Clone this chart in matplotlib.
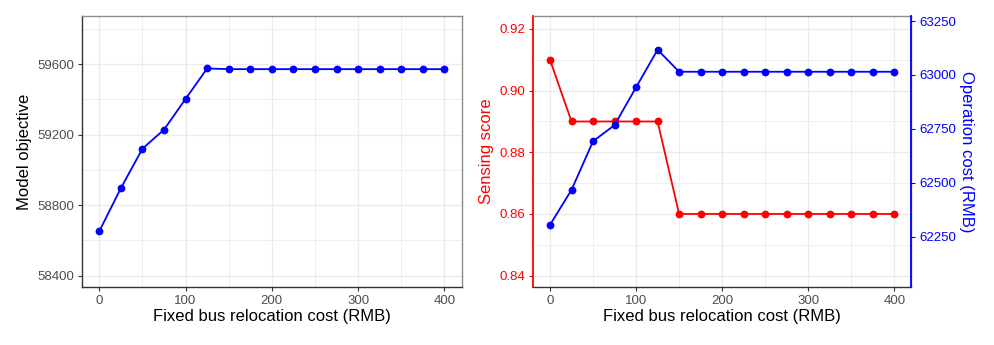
import numpy as np
import matplotlib
matplotlib.use("Agg")
from matplotlib import pyplot as plt
from matplotlib.ticker import MultipleLocator, FormatStrFormatter

plt.rcParams["font.family"] = ["Liberation Sans", "DejaVu Sans"]

# data
relocation_cost = [0, 25, 50, 75, 100, 125, 150, 175, 200, 225, 250, 275, 300, 325, 350, 375, 400]
model_objective = [58652, 58896, 59120, 59228, 59402, 59575, 59571, 59571, 59571, 59571,
                   59571, 59571, 59571, 59571, 59571, 59571, 59571]
sensing_score = [0.91, 0.89, 0.89, 0.89, 0.89, 0.89, 0.86, 0.86, 0.86, 0.86,
                 0.86, 0.86, 0.86, 0.86, 0.86, 0.86, 0.86]
operation_cost = [62306, 62468, 62693, 62768, 62943, 63117, 63015, 63015, 63015, 63015,
                  63015, 63015, 63015, 63015, 63015, 63015, 63015]

GRID = "#EBEBEB"
TICK_TXT = "#4D4D4D"
DARK = "#333333"
BLUE = "#0000FF"
RED = "#FF0000"


def style_axes(ax):
    ax.set_facecolor("white")
    ax.grid(which="major", color=GRID, linewidth=1.0, zorder=0)
    ax.grid(which="minor", color=GRID, linewidth=0.6, zorder=0)
    ax.set_axisbelow(True)
    ax.spines["top"].set_color("#8C8C8C")
    ax.spines["right"].set_color("#8C8C8C")
    ax.spines["left"].set_color(DARK)
    ax.spines["bottom"].set_color(DARK)
    for s in ax.spines.values():
        s.set_linewidth(1.0)
    ax.tick_params(which="major", length=3, width=0.8, color=DARK,
                   labelsize=9.5, labelcolor=TICK_TXT, pad=2.5)
    ax.tick_params(which="minor", length=0)
    ax.xaxis.set_major_locator(MultipleLocator(100))
    ax.xaxis.set_minor_locator(MultipleLocator(50))
    ax.set_xlim(-20, 420)
    ax.set_xlabel("Fixed bus relocation cost (RMB)", fontsize=12, labelpad=2)


fig = plt.figure(figsize=(9.94, 3.45), dpi=100)

# left panel
ax1 = fig.add_axes([0.0825, 0.168, 0.382, 0.7855])
style_axes(ax1)
ax1.plot(relocation_cost, model_objective, color=BLUE, linewidth=1.3,
         marker="o", markersize=4.6, zorder=3)
ax1.set_ylim(58336, 59872)
ax1.yaxis.set_major_locator(MultipleLocator(400))
ax1.yaxis.set_minor_locator(MultipleLocator(200))
ax1.set_ylabel("Model objective", fontsize=12, labelpad=4)

# right panel
ax2 = fig.add_axes([0.536, 0.168, 0.381, 0.7855])
style_axes(ax2)
ax2.plot(relocation_cost, sensing_score, color=RED, linewidth=1.3,
         marker="o", markersize=4.6, zorder=3)
ax2.set_ylim(0.8363, 0.9242)
ax2.yaxis.set_major_locator(MultipleLocator(0.02))
ax2.yaxis.set_minor_locator(MultipleLocator(0.01))
ax2.yaxis.set_major_formatter(FormatStrFormatter("%.2f"))
ax2.set_ylabel("Sensing score", fontsize=12, color=RED, labelpad=4)
ax2.spines["left"].set_color(RED)
ax2.spines["left"].set_linewidth(1.3)
ax2.tick_params(axis="y", which="major", color=RED, labelcolor=RED)

ax3 = ax2.twinx()
ax3.plot(relocation_cost, operation_cost, color=BLUE, linewidth=1.3,
         marker="o", markersize=4.6, zorder=3)
ax3.set_ylim(62018, 63273)
ax3.yaxis.set_major_locator(MultipleLocator(250))
ax3.spines["right"].set_color(BLUE)
ax3.spines["right"].set_linewidth(1.3)
ax3.spines["left"].set_visible(False)
ax3.spines["top"].set_visible(False)
ax3.spines["bottom"].set_visible(False)
ax3.tick_params(axis="y", length=3, width=0.8, color=BLUE, labelcolor=BLUE,
                labelsize=9.5, pad=2.5)
ax3.set_ylabel("Operation cost (RMB)", fontsize=12, color=BLUE,
               rotation=-90, labelpad=13)

fig.savefig("out.png", dpi=100, facecolor="white")
